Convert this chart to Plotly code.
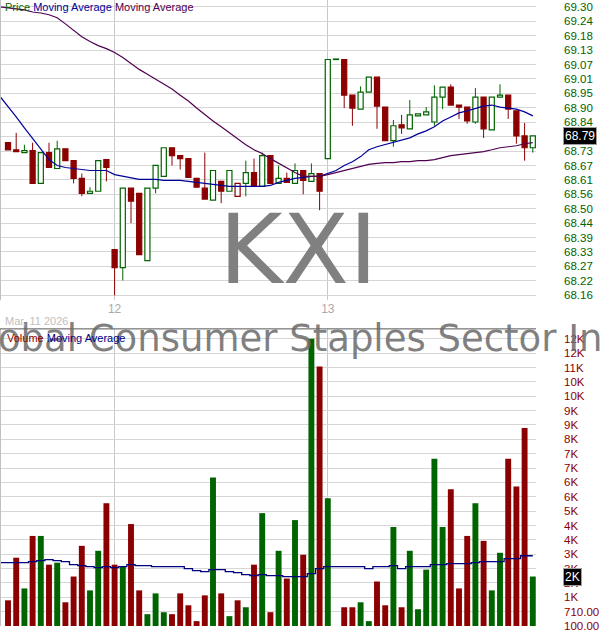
import plotly.graph_objects as go

# ---------------- data ----------------
opens = [68.763, 68.735, 68.724, 68.732, 68.602, 68.724, 68.661, 68.739, 68.692, 68.622,
         68.563, 68.571, 68.696, 68.340, 68.269, 68.583, 68.563, 68.297, 68.583, 68.630,
         68.743, 68.712, 68.700, 68.622, 68.583, 68.536, 68.610, 68.571, 68.551, 68.602,
         68.645, 68.590, 68.712, 68.602, 68.622, 68.602, 68.653, 68.610, 68.641, 68.700,
         69.092, 69.092, 68.951, 68.896, 68.963, 69.022, 68.904, 68.771, 68.834, 68.818,
         68.869, 68.873, 68.845, 68.943, 68.983, 68.912, 68.904, 68.845, 68.943, 68.814,
         68.943, 68.951, 68.889, 68.790, 68.743]
highs = [68.763, 68.802, 68.755, 68.763, 68.724, 68.763, 68.771, 68.739, 68.692, 68.641,
         68.587, 68.692, 68.696, 68.340, 68.583, 68.583, 68.563, 68.583, 68.673, 68.743,
         68.743, 68.712, 68.700, 68.622, 68.724, 68.653, 68.610, 68.653, 68.602, 68.692,
         68.700, 68.724, 68.712, 68.673, 68.645, 68.681, 68.653, 68.681, 68.641, 69.092,
         69.092, 69.092, 68.951, 68.986, 69.022, 69.022, 68.904, 68.853, 68.873, 68.932,
         68.877, 68.904, 68.990, 68.983, 68.994, 68.912, 68.904, 68.979, 68.943, 68.943,
         68.994, 68.951, 68.889, 68.841, 68.790]
lows = [68.735, 68.728, 68.724, 68.602, 68.602, 68.665, 68.661, 68.692, 68.602, 68.551,
        68.563, 68.571, 68.610, 68.159, 68.218, 68.445, 68.320, 68.297, 68.563, 68.630,
        68.673, 68.657, 68.626, 68.587, 68.540, 68.536, 68.524, 68.571, 68.551, 68.551,
        68.594, 68.590, 68.602, 68.602, 68.606, 68.602, 68.559, 68.610, 68.496, 68.700,
        69.092, 68.900, 68.830, 68.896, 68.963, 68.818, 68.771, 68.747, 68.798, 68.818,
        68.869, 68.873, 68.830, 68.896, 68.912, 68.857, 68.838, 68.838, 68.782, 68.814,
        68.943, 68.857, 68.759, 68.692, 68.724]
closes = [68.735, 68.728, 68.732, 68.602, 68.724, 68.665, 68.739, 68.692, 68.622, 68.563,
          68.571, 68.692, 68.665, 68.269, 68.583, 68.532, 68.320, 68.583, 68.673, 68.743,
          68.712, 68.700, 68.626, 68.587, 68.540, 68.653, 68.571, 68.653, 68.602, 68.645,
          68.594, 68.712, 68.602, 68.622, 68.606, 68.653, 68.614, 68.641, 68.571, 69.092,
          69.092, 68.951, 68.900, 68.963, 69.022, 68.908, 68.771, 68.830, 68.822, 68.873,
          68.877, 68.885, 68.943, 68.983, 68.912, 68.904, 68.849, 68.943, 68.818, 68.943,
          68.951, 68.896, 68.790, 68.743, 68.790]
volumes = [1194, 3003, 1699, 3928, 3928, 2708, 2792, 1110, 2204, 3508,
           1615, 3297, 5317, 2708, 2624, 4433, 1615, 605, 1488, 689,
           605, 1488, 983, 310, 1404, 6410, 1488, 521, 1194, 899,
           2708, 4896, 689, 3297, 2119, 4601, 3129, 12300, 11122, 5527,
           0, 899, 899, 1110, 310, 1993, 983, 4307, 899, 3297,
           815, 2498, 7210, 4307, 5906, 1699, 3928, 5317, 3718, 1615,
           3213, 7210, 6032, 8514, 2204]

# moving averages start one session before the first visible candle (at the left edge)
ma_x = list(range(-1, 65))
ma_short = [68.947,
            68.908, 68.865, 68.822, 68.779, 68.735, 68.696, 68.673, 68.665, 68.661, 68.657,
            68.653, 68.653, 68.653, 68.637, 68.630, 68.622, 68.618, 68.618, 68.618, 68.614,
            68.614, 68.614, 68.610, 68.606, 68.602, 68.598, 68.594, 68.590, 68.590, 68.590,
            68.590, 68.590, 68.594, 68.606, 68.614, 68.622, 68.626, 68.630, 68.630, 68.641,
            68.653, 68.673, 68.688, 68.708, 68.735, 68.747, 68.755, 68.763, 68.771, 68.782,
            68.798, 68.810, 68.826, 68.849, 68.865, 68.881, 68.889, 68.900, 68.908, 68.912,
            68.904, 68.900, 68.896, 68.885, 68.869]
ma_long = [69.300,
           69.296, 69.292, 69.288, 69.280, 69.276, 69.269, 69.257, 69.233, 69.206, 69.182,
           69.163, 69.147, 69.135, 69.120, 69.100, 69.077, 69.053, 69.034, 69.014, 68.994,
           68.975, 68.951, 68.928, 68.900, 68.873, 68.849, 68.826, 68.802, 68.779, 68.755,
           68.735, 68.720, 68.700, 68.681, 68.661, 68.645, 68.630, 68.630, 68.630, 68.637,
           68.645, 68.653, 68.661, 68.669, 68.677, 68.681, 68.684, 68.684, 68.688, 68.688,
           68.692, 68.692, 68.696, 68.704, 68.712, 68.716, 68.720, 68.724, 68.728, 68.735,
           68.743, 68.747, 68.751, 68.759, 68.763]
vol_ma = [2792,
          2792, 2792, 2792, 2835, 2877, 2919, 2877, 2835, 2708, 2666,
          2624, 2582, 2624, 2582, 2624, 2708, 2666, 2666, 2624, 2624,
          2624, 2624, 2540, 2456, 2414, 2498, 2498, 2414, 2372, 2288,
          2246, 2288, 2246, 2246, 2204, 2204, 2204, 2330, 2540, 2624,
          2624, 2624, 2624, 2624, 2540, 2624, 2624, 2666, 2540, 2624,
          2624, 2624, 2708, 2708, 2750, 2750, 2750, 2792, 2835, 2835,
          2835, 2961, 2961, 3087, 3087]

day_tick_pos = [13, 39]
day_tick_labels = ["12", "13"]
price_tick_values = [69.300, 69.243, 69.186, 69.129, 69.072, 69.015, 68.958, 68.901, 68.844,
                     68.787, 68.730, 68.673, 68.616, 68.559, 68.502, 68.445, 68.388, 68.331,
                     68.274, 68.217, 68.160]
price_tick_labels = ["69.30", "69.24", "69.18", "69.13", "69.07", "69.01", "68.95", "68.90",
                     "68.84", "68.79", "68.73", "68.67", "68.61", "68.56", "68.50", "68.44",
                     "68.39", "68.33", "68.27", "68.22", "68.16"]
vol_tick_values = [12300, 11690, 11080, 10470, 9860, 9250, 8640, 8030, 7420, 6810, 6200,
                   5590, 4980, 4370, 3760, 3150, 2540, 1930, 1320, 710, 100]
vol_tick_labels = ["12K", "12K", "11K", "10K", "10K", "9K", "9K", "8K", "7K", "7K", "6K",
                   "6K", "5K", "4K", "4K", "3K", "3K", "2K", "1K", "710.00", "100.00"]

symbol = "KXI"
fund_name = "Global Consumer Staples Sector Index Fund"
date_label = "Mar, 11 2026"

# ---------------- styling ----------------
GREEN = "#006400"
RED = "#8b0000"
BLUE = "#000099"
PURPLE = "#4f0050"
GRID = "#d6d6d6"
VGRID = "#c8c8c8"
W, H = 600, 640
PLOT_W = 536

n = len(closes)
idx = list(range(n))

line_cols, fill_cols = [], []
for i in range(n):
    prev = closes[i - 1] if i > 0 else opens[i]
    col = GREEN if closes[i] >= prev else RED
    line_cols.append(col)
    fill_cols.append("white" if closes[i] > opens[i] else col)

body_base = [min(o, c) for o, c in zip(opens, closes)]
body_h = [max(abs(c - o), 0.002) for o, c in zip(opens, closes)]


def wicks(color):
    xs, ys = [], []
    for i in range(n):
        if line_cols[i] != color:
            continue
        top = max(opens[i], closes[i])
        bot = min(opens[i], closes[i])
        if highs[i] > top:
            xs += [i, i, None]
            ys += [highs[i], top, None]
        if lows[i] < bot:
            xs += [i, i, None]
            ys += [bot, lows[i], None]
    return xs, ys


fig = go.Figure()

for col in (GREEN, RED):
    wx, wy = wicks(col)
    fig.add_trace(go.Scatter(x=wx, y=wy, mode="lines", line=dict(color=col, width=1),
                             xaxis="x", yaxis="y", hoverinfo="skip"))

fig.add_trace(go.Bar(x=idx, y=body_h, base=body_base, width=0.62,
                     marker=dict(color=fill_cols, line=dict(color=line_cols, width=1.2)),
                     xaxis="x", yaxis="y"))

fig.add_trace(go.Scatter(x=ma_x, y=ma_short, mode="lines", line=dict(color=BLUE, width=1.2),
                         xaxis="x", yaxis="y"))
fig.add_trace(go.Scatter(x=ma_x, y=ma_long, mode="lines", line=dict(color=PURPLE, width=1.2),
                         xaxis="x", yaxis="y"))

fig.add_trace(go.Bar(x=idx, y=volumes, width=0.72, marker=dict(color=line_cols, line=dict(width=0)),
                     xaxis="x2", yaxis="y2"))
fig.add_trace(go.Scatter(x=ma_x, y=vol_ma, mode="lines", line=dict(color="#000080", width=1.3, shape="hvh"),
                         xaxis="x2", yaxis="y2"))

xrange = [-0.976, 64.39]
price_dom = [(H - 303) / H, 1.0]
vol_dom = [(H - 632) / H, (H - 332) / H]

fig.update_layout(
    width=W, height=H,
    margin=dict(l=0, r=W - PLOT_W, t=0, b=0),
    paper_bgcolor="white", plot_bgcolor="white",
    showlegend=False,
    font=dict(family="Liberation Sans", size=11),
    xaxis=dict(domain=[0, 1], range=xrange, anchor="y", tickmode="array",
               tickvals=day_tick_pos, ticktext=day_tick_labels, showgrid=True,
               gridcolor=VGRID, gridwidth=1, zeroline=False, showline=False, ticks="",
               tickfont=dict(color="#aaaaaa", size=12, family="Liberation Sans")),
    yaxis=dict(domain=price_dom, range=[68.1403, 69.3274], anchor="x", side="right",
               tickmode="array", tickvals=price_tick_values, ticktext=price_tick_labels,
               showgrid=True, gridcolor=GRID, gridwidth=1, zeroline=False, ticks="",
               ticklabelstandoff=27,
               tickfont=dict(color=GREEN, size=11.5, family="Liberation Sans")),
    xaxis2=dict(domain=[0, 1], range=xrange, anchor="y2", tickmode="array",
                tickvals=day_tick_pos, showticklabels=False, showgrid=True,
                gridcolor=VGRID, gridwidth=1, zeroline=False, ticks=""),
    yaxis2=dict(domain=vol_dom, range=[100, 12721], anchor="x2", side="right",
                tickmode="array", tickvals=vol_tick_values, ticktext=vol_tick_labels,
                showgrid=True, gridcolor=GRID, gridwidth=1, zeroline=False, ticks="",
                ticklabelstandoff=27,
                tickfont=dict(color=RED, size=11.5, family="Liberation Sans")),
)

shapes = [
    dict(type="line", xref="paper", yref="y domain", x0=0.5 / PLOT_W, x1=0.5 / PLOT_W, y0=0, y1=1,
         line=dict(color="#c0c0c0", width=1)),
    dict(type="line", xref="paper", yref="y2 domain", x0=0.5 / PLOT_W, x1=0.5 / PLOT_W, y0=0, y1=1,
         line=dict(color="#c0c0c0", width=1)),
    dict(type="line", xref="paper", yref="y2 domain", x0=0, x1=1, y0=1, y1=1,
         line=dict(color="#555555", width=1)),
]
fig.update_layout(shapes=shapes)


def px_x(p):
    return p / PLOT_W


def px_y(p):
    return (H - p) / H


last_vol = volumes[-1]
vol_box = f"{round(last_vol / 1000)}K"

annotations = [
    dict(text=symbol, xref="paper", yref="paper", x=px_x(298.5), y=px_y(252),
         xanchor="center", yanchor="middle", showarrow=False,
         font=dict(family="DejaVu Sans", size=97, color="rgba(128,128,128,1)")),
    dict(text=fund_name, xref="paper", yref="paper", x=px_x(-43), y=px_y(342),
         xanchor="left", yanchor="middle", showarrow=False,
         font=dict(family="DejaVu Sans", size=37, color="rgba(105,105,105,0.85)")),
    dict(text=(f"<span style='color:{GREEN}'>Price</span> "
               f"<span style='color:{BLUE}'>Moving Average</span> "
               f"<span style='color:{PURPLE}'>Moving Average</span>"),
         xref="paper", yref="paper", x=px_x(3), y=px_y(7), xanchor="left", yanchor="middle",
         showarrow=False, font=dict(family="Liberation Sans", size=11)),
    dict(text=(f"<span style='color:{RED}'>Volume</span> "
               f"<span style='color:#000080'>Moving Average</span>"),
         xref="paper", yref="paper", x=px_x(5), y=px_y(341), xanchor="left", yanchor="middle",
         showarrow=False, font=dict(family="Liberation Sans", size=11)),
    dict(text=date_label, xref="paper", yref="paper", x=px_x(3), y=px_y(324),
         xanchor="left", yanchor="middle", showarrow=False,
         font=dict(family="Liberation Sans", size=11, color="#c0c0c0")),
    dict(text=f"{closes[-1]:.2f}", xref="paper", yref="y", x=px_x(563), y=closes[-1],
         xanchor="left", yanchor="middle", showarrow=False, bgcolor="black",
         bordercolor="#a0a0a0", borderwidth=1, borderpad=1,
         font=dict(family="Liberation Sans", size=12, color="white")),
    dict(text=vol_box, xref="paper", yref="y2", x=px_x(563), y=last_vol,
         xanchor="left", yanchor="middle", showarrow=False, bgcolor="black",
         bordercolor="#a0a0a0", borderwidth=1, borderpad=1,
         font=dict(family="Liberation Sans", size=12, color="white")),
]
fig.update_layout(annotations=annotations)

fig.write_html("out.html", config={"displayModeBar": False, "staticPlot": True},
               post_script="document.body.style.margin='0px';document.body.style.padding='0px';")
